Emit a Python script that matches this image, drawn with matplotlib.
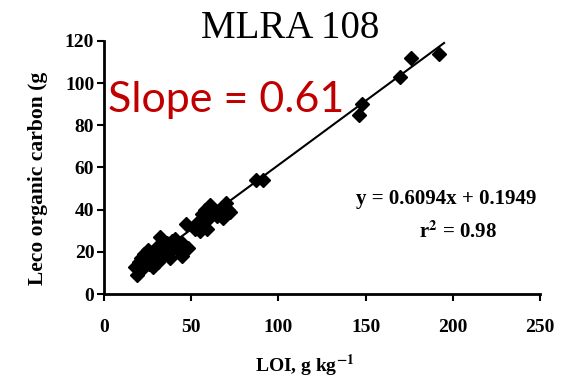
import numpy as np
import matplotlib
matplotlib.use("Agg")
import matplotlib.pyplot as plt

plt.rcParams["mathtext.fontset"] = "stix"

# LOI (g/kg) vs Leco organic carbon
loi = [19, 18, 20, 21, 22, 23, 24, 25, 26, 27, 28, 28, 29, 30, 30, 31, 32, 32,
       33, 34, 35, 36, 37, 38, 39, 40, 41, 42, 44, 45, 45, 47, 48,
       52, 54, 55, 56, 57, 58, 59, 60, 61, 62, 63, 65, 66, 67, 68, 70, 71, 72,
       87, 91, 146, 148, 170, 176, 192]
leco = [9, 13, 15, 17, 12, 19, 16, 21, 14, 18, 20, 13, 16, 22, 17, 15, 19, 27,
        23, 18, 21, 24, 20, 17, 25, 22, 26, 23, 20, 18, 24, 33, 22,
        31, 34, 30, 38, 32, 40, 31, 36, 42, 38, 39, 37, 40, 38, 36, 43, 40, 39,
        54, 54, 85, 90, 103, 112, 114]

slope, intercept = 0.6094, 0.1949
x_ticks = [0, 50, 100, 150, 200, 250]
y_ticks = [0, 20, 40, 60, 80, 100, 120]

serif = ["Liberation Serif", "DejaVu Serif"]

fig = plt.figure(figsize=(5.67, 3.8), dpi=100)
ax = fig.add_axes([0.1834, 0.2263, 0.769, 0.666])

ax.plot(loi, leco, "D", color="black", ms=7.5, mec="black")
xl = np.array([18, 195])
ax.plot(xl, slope * xl + intercept, color="black", lw=1.5)

ax.set_xlim(0, 250)
ax.set_ylim(0, 120)
ax.set_xticks(x_ticks)
ax.set_yticks(y_ticks)
for s in ["top", "right"]:
    ax.spines[s].set_visible(False)
for s in ["left", "bottom"]:
    ax.spines[s].set_linewidth(2)
ax.tick_params(axis="both", direction="out", length=5, width=1.5)
ax.tick_params(axis="x", pad=13)
ax.tick_params(axis="y", pad=2)
for lab in ax.get_xticklabels() + ax.get_yticklabels():
    lab.set_family(serif)
    lab.set_fontweight("bold")
    lab.set_fontsize(14)

fig.text(0.512, 0.9, "MLRA 108", family=serif, fontsize=28,
         ha="center", va="baseline")
fig.text(0.19, 0.705, "Slope = 0.61", family=["Lato", "DejaVu Sans"],
         fontsize=31, color="#C00000", ha="left", va="baseline")
fig.text(0.067, 0.53, "Leco organic carbon (g", family=serif, fontsize=15.5,
         fontweight="bold", rotation=90, ha="center", va="center")
fig.text(0.538, 0.037, "LOI, g kg$^{\\mathbf{-1}}$", family=serif, fontsize=14,
         fontweight="bold", ha="center", va="center")
fig.text(0.787, 0.476, "y = 0.6094x + 0.1949", family=serif, fontsize=15,
         fontweight="bold", ha="center", va="center")
fig.text(0.808, 0.39, "r$^{\\mathbf{2}}$ = 0.98", family=serif, fontsize=15,
         fontweight="bold", ha="center", va="center")

fig.savefig("out.png", dpi=100)
